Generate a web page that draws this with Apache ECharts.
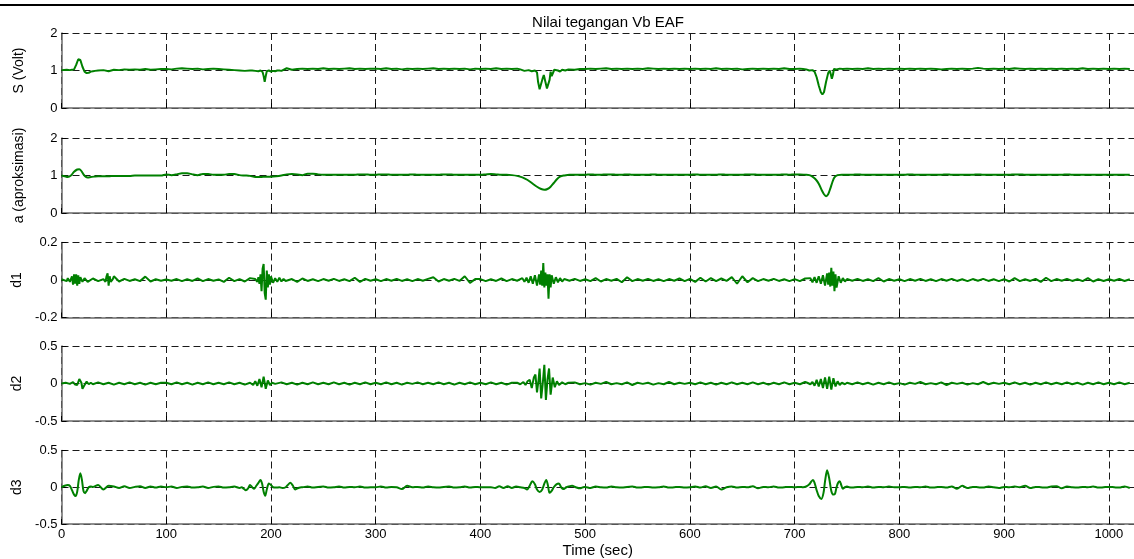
<!DOCTYPE html>
<html>
<head>
<meta charset="utf-8">
<title>Nilai tegangan Vb EAF</title>
<script src="https://cdn.jsdelivr.net/npm/echarts@6.0.0/dist/echarts.min.js"></script>
<style>
  html, body { margin: 0; padding: 0; background: #fff; }
  #chart { width: 1134px; height: 559px; }
</style>
</head>
<body>
<div id="chart"></div>
<script>
// baseline samples every 5 s (t = 0, 5, ... 1020)
const STEP = 5;

const sBase = [
  1.01,1.02,1.01,1.3,0.95,0.95,0.98,1.0,1.01,0.98,1.02,1.01,1.03,1.02,1.03,1.02,1.04,1.02,1.03,1.04,
  1.04,1.03,1.05,1.06,1.05,1.04,1.05,1.03,1.04,1.05,1.04,1.03,1.02,1.01,1.0,0.99,1.0,0.99,1.0,0.8,
  1.0,0.98,0.99,1.06,1.02,1.04,1.05,1.04,1.05,1.04,1.06,1.04,1.05,1.04,1.05,1.06,1.04,1.05,1.04,1.05,
  1.05,1.04,1.06,1.04,1.05,1.03,1.05,1.04,1.05,1.04,1.05,1.06,1.04,1.05,1.04,1.05,1.04,1.05,1.03,1.05,
  1.04,1.05,1.04,1.06,1.04,1.05,1.04,1.05,0.97,1.0,0.5,0.6,0.5,0.9,0.98,1.02,1.0,1.04,1.02,1.04,
  1.04,1.05,1.04,1.05,1.06,1.04,1.05,1.04,1.05,1.04,1.05,1.04,1.06,1.05,1.04,1.05,1.04,1.05,1.04,1.05,
  1.04,1.05,1.04,1.05,1.04,1.06,1.04,1.05,1.04,1.05,1.03,1.04,1.05,1.04,1.05,1.04,1.05,1.04,1.06,1.04,
  1.04,1.05,1.03,1.0,0.9,0.4,0.9,1.0,1.05,1.04,1.05,1.04,1.05,1.04,1.06,1.04,1.05,1.04,1.05,1.04,
  1.05,1.04,1.05,1.04,1.05,1.04,1.05,1.04,1.03,1.04,1.05,1.04,1.05,1.04,1.05,1.07,1.05,1.04,1.05,1.04,
  1.05,1.04,1.06,1.05,1.04,1.05,1.04,1.05,1.04,1.05,1.04,1.05,1.04,1.05,1.04,1.06,1.04,1.05,1.04,1.05,
  1.04,1.05,1.04,1.05,1.04
];
const sEvents = [
  [[8,1.01],[10,1.02],[12,1.03],[14,1.15],[16,1.3],[17,1.33],[18,1.28],[20,1.1],[22,0.97],[24,0.93],[26,0.94],[28,0.97],[30,0.98],[32,0.99]],
  [[182,1.0],[185,0.99],[188,0.98],[190,1.0],[192,0.96],[193,0.85],[194,0.7],[195,0.85],[196,0.98],[198,1.0],[200,0.97],[202,0.99],[204,0.98],[206,1.0],[208,1.0]],
  [[438,1.03],[442,0.99],[446,1.01],[449,0.98],[452,1.0],[454,0.95],[455,0.7],[456.5,0.5],[458,0.55],[459.5,0.8],[460.5,0.88],[462,0.7],[463.5,0.52],[465,0.5],[466,0.75],[467,0.97],[468,0.85],[469.5,0.9],[470.5,1.02],[472,0.97],[474,1.0],[476,0.97],[478,1.02],[481,1.0],[484,1.03]],
  [[708,1.04],[711,1.03],[714,1.0],[717,1.01],[719,0.97],[721,0.82],[723,0.6],[725,0.42],[726.5,0.36],[728,0.42],[730,0.7],[732,0.93],[733.5,1.0],[734.5,0.9],[735.5,0.78],[736.5,0.88],[737.5,1.04],[740,1.03],[743,1.05],[746,1.04]]
];

const aBase = [
  1.0,0.96,1.05,1.17,1.05,0.95,0.97,0.98,0.98,0.98,0.99,0.99,0.99,0.99,1.0,1.0,1.0,1.0,1.0,1.0,
  1.03,1.01,1.03,1.06,1.06,1.03,1.01,1.04,1.04,1.02,1.02,1.02,1.04,1.04,1.01,1.0,0.99,0.96,0.96,0.97,
  0.97,0.98,1.0,1.03,1.04,1.03,1.01,1.05,1.05,1.03,1.02,1.02,1.02,1.02,1.02,1.02,1.02,1.03,1.03,1.02,
  1.02,1.03,1.03,1.02,1.02,1.02,1.02,1.03,1.02,1.02,1.02,1.02,1.02,1.03,1.03,1.02,1.02,1.02,1.02,1.02,
  1.02,1.03,1.04,1.03,1.02,1.01,1.0,0.97,0.92,0.85,0.78,0.66,0.62,0.7,0.85,0.97,1.0,1.02,1.02,1.02,
  1.02,1.03,1.02,1.02,1.03,1.03,1.02,1.02,1.03,1.02,1.02,1.02,1.02,1.03,1.02,1.02,1.02,1.02,1.02,1.02,
  1.02,1.03,1.02,1.02,1.02,1.02,1.03,1.02,1.02,1.02,1.02,1.03,1.03,1.02,1.02,1.02,1.02,1.02,1.03,1.02,
  1.03,1.03,1.02,1.01,0.9,0.6,0.45,0.82,1.0,1.02,1.02,1.02,1.03,1.02,1.02,1.02,1.02,1.02,1.02,1.02,
  1.02,1.02,1.03,1.02,1.02,1.02,1.02,1.02,1.02,1.03,1.02,1.02,1.02,1.02,1.02,1.03,1.02,1.02,1.02,1.02,
  1.02,1.02,1.03,1.03,1.02,1.02,1.02,1.02,1.02,1.02,1.02,1.02,1.03,1.02,1.02,1.02,1.02,1.02,1.02,1.02,
  1.02,1.02,1.02,1.02,1.02
];
const aEvents = [
  [[0,1.0],[3,0.98],[6,0.96],[9,1.0],[12,1.1],[15,1.16],[17,1.17],[19,1.12],[21,1.03],[23,0.97],[25,0.95],[28,0.96],[31,0.97],[35,0.98]],
  [[425,1.02],[430,1.01],[435,0.99],[440,0.95],[445,0.88],[450,0.78],[454,0.7],[458,0.64],[461,0.62],[464,0.64],[467,0.7],[470,0.8],[473,0.9],[476,0.97],[480,1.0],[485,1.02],[490,1.02]],
  [[705,1.03],[710,1.02],[714,1.01],[717,0.97],[720,0.9],[723,0.78],[726,0.6],[728,0.5],[730,0.45],[732,0.5],[734,0.65],[736,0.82],[738,0.95],[741,1.01],[745,1.02],[750,1.02]]
];

const d1Base = [
  0.004,-0.006,0.01,-0.02,0.02,-0.01,0.008,-0.006,0.006,-0.02,0.02,-0.008,0.006,-0.005,0.004,-0.006,0.018,-0.008,0.004,-0.004,
  0.003,-0.004,0.005,-0.006,0.004,-0.005,0.008,-0.006,0.005,-0.004,0.003,-0.01,0.012,-0.006,0.005,-0.008,0.01,-0.008,0.006,-0.05,
  0.01,-0.01,0.008,-0.006,0.005,-0.01,0.008,-0.005,0.004,-0.006,0.005,-0.004,0.006,-0.005,0.004,-0.006,0.012,-0.01,0.006,-0.004,
  0.004,-0.006,0.005,-0.004,0.006,-0.005,0.004,-0.006,0.005,-0.004,0.006,0.015,-0.008,0.005,-0.004,0.006,-0.005,0.02,-0.015,0.005,
  0.005,-0.006,0.004,-0.005,0.008,-0.006,0.005,-0.004,0.01,-0.03,0.05,-0.05,0.04,-0.02,0.01,-0.006,0.005,-0.004,0.006,-0.005,
  0.004,-0.006,0.01,-0.008,0.005,-0.004,0.006,-0.012,0.015,-0.006,0.005,-0.004,0.006,-0.005,0.004,-0.006,0.005,-0.004,0.008,-0.006,
  0.006,-0.01,0.012,-0.008,0.01,-0.006,0.008,-0.005,0.015,-0.02,0.02,-0.012,0.01,-0.006,0.005,-0.004,0.006,-0.005,0.004,-0.006,
  0.005,-0.006,0.008,-0.01,0.02,-0.03,0.04,-0.05,0.05,-0.02,0.005,-0.004,0.006,-0.005,0.004,-0.006,0.01,-0.008,0.005,-0.004,
  0.004,-0.006,0.005,-0.004,0.006,-0.005,0.004,-0.006,0.005,-0.004,0.006,-0.005,0.004,-0.006,0.005,-0.004,0.006,-0.005,0.004,-0.006,
  0.005,-0.008,0.01,-0.006,0.004,-0.005,0.006,-0.01,0.012,-0.006,0.005,-0.004,0.006,-0.005,0.004,-0.006,0.01,-0.008,0.004,-0.005,
  0.004,-0.004,0.005,-0.005,0.004
];
const d1Events = [
  [[6,0.01],[8,-0.01],[10,0.02],[11,-0.025],[12,0.03],[13,-0.02],[14,0.03],[15,-0.03],[16,0.025],[17,-0.02],[18,0.015],[20,-0.01],[22,0.01]],
  [[40,0.005],[42,-0.01],[43,0.02],[44,0.035],[45,-0.03],[46,0.02],[47,-0.01],[49,0.005]],
  [[185,0.005],[187,-0.01],[188,0.015],[189,-0.02],[190,0.03],[191,-0.06],[192,0.06],[193,0.085],[194,-0.07],[195,-0.105],[196,0.05],[197,-0.04],[198,0.03],[199,-0.025],[200,0.02],[202,-0.015],[204,0.01],[206,-0.01],[208,0.012],[210,-0.008],[212,0.006],[214,-0.005]],
  [[440,0.01],[442,-0.01],[444,0.012],[446,-0.015],[448,0.02],[450,-0.02],[452,0.025],[454,-0.03],[456,0.03],[457,-0.025],[458,0.05],[459,-0.03],[460,0.09],[461,-0.04],[462,0.04],[463,-0.03],[464,0.03],[465,-0.1],[466,0.03],[467,-0.04],[468,0.025],[470,-0.02],[472,0.015],[474,-0.012],[476,0.01],[478,-0.008],[480,0.005]],
  [[715,0.01],[717,-0.012],[719,0.015],[721,-0.015],[723,0.02],[725,-0.02],[727,0.025],[729,-0.03],[731,0.035],[732,-0.025],[733,0.04],[734,-0.035],[735,0.065],[736,-0.03],[737,0.045],[738,-0.06],[739,0.03],[740,-0.04],[742,0.02],[744,-0.015],[746,0.01],[748,-0.008],[750,0.005]]
];

const d2Base = [
  0.0,0.01,0.02,0.06,-0.07,0.02,-0.01,0.015,-0.01,0.01,-0.015,0.01,-0.01,0.015,-0.01,0.01,-0.015,0.01,-0.01,0.01,
  0.01,-0.01,0.015,-0.01,0.01,-0.015,0.01,-0.01,0.015,-0.01,0.01,-0.01,0.015,-0.01,0.01,-0.015,0.02,-0.02,0.03,-0.05,
  0.01,-0.01,0.015,-0.01,0.01,-0.015,0.01,-0.01,0.015,-0.01,0.01,-0.01,0.015,-0.01,0.01,-0.015,0.01,-0.01,0.015,-0.01,
  0.01,-0.01,0.015,-0.01,0.01,-0.015,0.01,-0.005,0.015,-0.01,0.01,-0.01,0.015,-0.01,0.01,-0.015,0.01,-0.01,0.015,-0.01,
  0.01,-0.01,0.015,-0.01,0.01,-0.015,0.01,-0.01,0.015,-0.06,0.2,-0.2,0.2,-0.05,0.02,-0.015,0.01,-0.01,0.015,-0.01,
  0.005,-0.015,0.01,-0.005,0.02,-0.01,0.005,-0.01,0.015,-0.02,0.01,-0.005,0.01,-0.015,0.005,-0.01,0.02,-0.01,0.01,-0.005,
  0.01,-0.01,0.015,-0.01,0.01,-0.015,0.01,-0.01,0.015,-0.01,0.01,-0.01,0.015,-0.01,0.01,-0.015,0.01,-0.01,0.015,-0.01,
  0.01,-0.01,0.02,-0.03,0.05,-0.06,0.08,-0.08,0.03,-0.01,0.01,-0.01,0.015,-0.01,0.01,-0.015,0.01,-0.01,0.015,-0.01,
  0.005,-0.015,0.01,-0.005,0.02,-0.01,0.005,-0.01,0.015,-0.02,0.01,-0.005,0.01,-0.015,0.005,-0.01,0.02,-0.01,0.01,-0.005,
  0.01,-0.01,0.015,-0.01,0.01,-0.015,0.01,-0.01,0.015,-0.01,0.01,-0.01,0.015,-0.01,0.01,-0.015,0.01,-0.01,0.015,-0.01,
  0.01,-0.01,0.015,-0.01,0.01
];
const d2Events = [
  [[0,0.0],[4,0.01],[8,-0.005],[11,0.02],[13,-0.015],[15,-0.02],[17,0.06],[19,0.01],[20,-0.07],[22,-0.02],[24,0.025],[26,-0.01],[28,0.01]],
  [[180,0.01],[183,-0.02],[185,0.03],[187,-0.03],[189,0.06],[191,-0.05],[193,0.09],[195,-0.07],[197,0.04],[199,-0.02],[201,0.01],[204,-0.005]],
  [[435,0.01],[438,-0.01],[441,0.02],[443,-0.02],[445,0.03],[447,0.05],[449,-0.06],[451,0.08],[452.5,0.12],[454,-0.12],[455.5,0.05],[456.5,0.2],[458,-0.2],[459.5,0.0],[461,0.25],[462.5,-0.22],[464,0.05],[465.5,0.2],[467,-0.15],[469,0.08],[471,-0.05],[473,0.03],[475,-0.02],[478,0.015],[481,-0.01],[484,0.01]],
  [[712,0.01],[715,-0.01],[717,0.02],[719,-0.03],[721,0.05],[723,-0.04],[725,0.06],[727,-0.06],[729,0.08],[731,-0.07],[733,0.09],[735,-0.08],[737,0.07],[739,-0.04],[741,0.03],[743,-0.02],[745,0.01],[748,-0.01]]
];

const d3Base = [
  0.0,0.03,-0.04,0.18,-0.05,0.0,0.01,0.03,-0.03,0.02,0.01,-0.01,0.015,-0.01,0.005,0.015,-0.01,0.01,-0.005,0.01,
  0.0,0.01,-0.01,0.005,0.01,-0.005,0.0,0.01,-0.01,0.005,0.01,-0.005,0.0,0.01,-0.01,-0.04,0.03,0.08,-0.1,0.04,
  0.03,0.0,0.0,-0.01,0.06,-0.01,0.0,0.01,-0.005,0.005,0.01,-0.005,0.0,0.01,-0.005,0.005,0.0,0.01,-0.005,0.0,
  0.0,0.01,-0.005,0.005,0.0,-0.025,0.02,0.0,0.005,-0.005,0.01,0.0,-0.005,0.005,0.01,-0.005,0.0,0.01,-0.005,0.005,
  0.0,0.0,-0.01,0.015,-0.01,0.015,-0.01,0.01,-0.01,0.08,-0.06,0.1,-0.07,0.05,-0.02,0.01,0.02,0.0,-0.015,0.005,
  0.005,-0.01,0.01,0.0,-0.005,0.01,0.0,-0.005,0.005,0.01,-0.005,0.0,0.005,-0.005,0.0,0.01,-0.005,0.0,0.005,-0.005,
  0.0,0.01,-0.005,0.015,-0.01,0.01,-0.03,0.0,0.01,-0.005,0.005,0.0,0.015,-0.015,0.005,0.0,0.01,-0.005,0.0,0.005,
  0.0,0.005,0.01,0.08,-0.1,-0.1,0.2,-0.1,0.05,0.0,0.01,-0.005,0.005,0.0,0.01,-0.005,0.005,0.0,0.01,0.0,
  0.0,0.005,-0.005,0.005,0.0,0.01,-0.005,0.0,0.005,-0.005,0.01,-0.02,0.02,-0.01,0.005,0.0,-0.005,0.01,0.0,-0.01,
  0.005,0.0,0.01,0.0,0.02,-0.01,0.005,0.0,-0.005,0.01,0.015,-0.015,0.01,0.0,-0.005,0.005,0.0,0.01,-0.005,0.0,
  0.005,0.0,-0.005,0.01,-0.01
];
const d3Events = [
  [[0,0.0],[3,0.02],[6,0.03],[8,0.02],[10,-0.04],[12,-0.1],[13.5,-0.12],[15,-0.06],[16.5,0.1],[18,0.19],[19.5,0.1],[21,-0.05],[22.5,-0.08],[24,-0.05],[26,0.0],[28,0.01],[30,0.005]],
  [[172,0.0],[174,-0.02],[176,-0.04],[178,-0.02],[180,0.03],[182,0.0],[184,-0.02],[186,0.02],[188,0.06],[190,0.1],[191.5,0.05],[193,-0.06],[194.5,-0.115],[196,-0.03],[198,0.05],[200,0.03],[202,0.0],[205,-0.005],[208,0.0],[211,-0.01],[214,0.0],[216,0.03],[218.5,0.06],[221,0.02],[223,-0.03],[226,-0.01],[229,0.0]],
  [[410,0.0],[414,-0.01],[418,0.015],[422,-0.01],[426,0.015],[430,-0.01],[434,0.01],[438,0.0],[442,-0.01],[444.5,-0.03],[447,0.02],[449.5,0.08],[452,0.04],[454,-0.03],[456.5,-0.065],[459,-0.03],[461,0.05],[462.8,0.1],[464.5,0.02],[466,-0.075],[468,-0.05],[470,0.0],[472.5,0.04],[475,0.05],[477,0.0],[479.5,-0.025],[482,0.0],[484,0.01],[487.5,0.02],[491,0.0],[495,-0.015],[499,0.005]],
  [[708,0.0],[711,0.01],[714,0.04],[716,0.08],[717.5,0.1],[719,0.06],[721,-0.04],[723,-0.12],[725.5,-0.16],[727.5,-0.08],[729,0.08],[731,0.23],[733,0.12],[735,-0.05],[737,-0.1],[738.5,-0.09],[740,0.0],[741.5,0.06],[743,0.08],[744.5,0.03],[746,-0.02],[748,0.0],[750,0.01],[752,0.0]]
];

const yNames = ['S (Volt)', 'a (aproksimasi)', 'd1', 'd2', 'd3'];
const yMin = [0, 0, -0.2, -0.5, -0.5];
const yMax = [2, 2, 0.2, 0.5, 0.5];
const yStep = [1, 1, 0.2, 0.5, 0.5];
const xTicks = [0, 100, 200, 300, 400, 500, 600, 700, 800, 900, 1000];

// merge the 5 s baseline with the detailed event pieces
function build(base, events) {
  const pts = [];
  base.forEach((v, i) => {
    const t = i * STEP;
    const inside = events.some(e => t >= e[0][0] && t <= e[e.length - 1][0]);
    if (!inside) pts.push([t, v]);
  });
  events.forEach(e => e.forEach(p => pts.push(p)));
  pts.sort((a, b) => a[0] - b[0]);
  return pts;
}

const seriesData = [
  build(sBase, sEvents),
  build(aBase, aEvents),
  build(d1Base, d1Events),
  build(d2Base, d2Events),
  build(d3Base, d3Events)
];

const FONT = 'Liberation Sans, Arial, Helvetica, sans-serif';
const tops = [33, 138, 242.5, 346, 450.5];
const dashed = { color: '#1a1a1a', type: [7, 4], width: 1 };

const grids = tops.map(t => ({ left: 61.5, top: t, width: 1082.5, height: 75 }));

const xAxes = tops.map((t, i) => ({
  type: 'value', gridIndex: i, min: 0, max: 1024, interval: 100,
  axisLine: { show: true, onZero: false, lineStyle: { color: '#6a6a6a', width: 1.5 } },
  axisTick: { show: true, inside: true, length: 5, lineStyle: { color: '#000' } },
  axisLabel: {
    show: i === 4, margin: 4, fontSize: 13, color: '#000', fontFamily: FONT,
    showMaxLabel: false,
    formatter: v => xTicks.indexOf(v) >= 0 ? String(v) : ''
  },
  splitLine: { show: true, lineStyle: dashed },
  name: i === 4 ? 'Time (sec)' : '',
  nameLocation: 'middle', nameGap: 19,
  nameTextStyle: { fontSize: 15, color: '#000', fontFamily: FONT }
}));

const yAxes = tops.map((t, i) => ({
  type: 'value', gridIndex: i, min: yMin[i], max: yMax[i], interval: yStep[i],
  axisLine: { show: true, onZero: false, lineStyle: { color: '#6a6a6a', width: 1.5 } },
  axisTick: { show: true, inside: true, length: 5, lineStyle: { color: '#000' } },
  axisLabel: { margin: 4, fontSize: 13, color: '#000', fontFamily: FONT },
  splitLine: { show: true, lineStyle: dashed },
  name: yNames[i], nameLocation: 'middle', nameGap: 35, nameRotate: 90,
  nameTextStyle: { fontSize: 14, color: '#000', fontFamily: FONT }
}));

const chart = echarts.init(document.getElementById('chart'));
chart.setOption({
  animation: false,
  backgroundColor: '#fff',
  textStyle: { fontFamily: FONT },
  title: {
    text: 'Nilai tegangan Vb EAF', left: 603, top: 10, textAlign: 'center',
    textStyle: { fontSize: 15, fontWeight: 'normal', color: '#000', fontFamily: FONT }
  },
  graphic: [{
    type: 'line', shape: { x1: 0, y1: 5, x2: 1134, y2: 5 },
    style: { stroke: '#000', lineWidth: 2 }
  }],
  grid: grids,
  xAxis: xAxes,
  yAxis: yAxes,
  series: seriesData.map((d, i) => ({
    type: 'line', xAxisIndex: i, yAxisIndex: i, data: d,
    showSymbol: false, smooth: (i === 1 || i === 4) ? 0.3 : false,
    lineStyle: { color: '#008000', width: 2 },
    z: 5
  }))
});
</script>
</body>
</html>
